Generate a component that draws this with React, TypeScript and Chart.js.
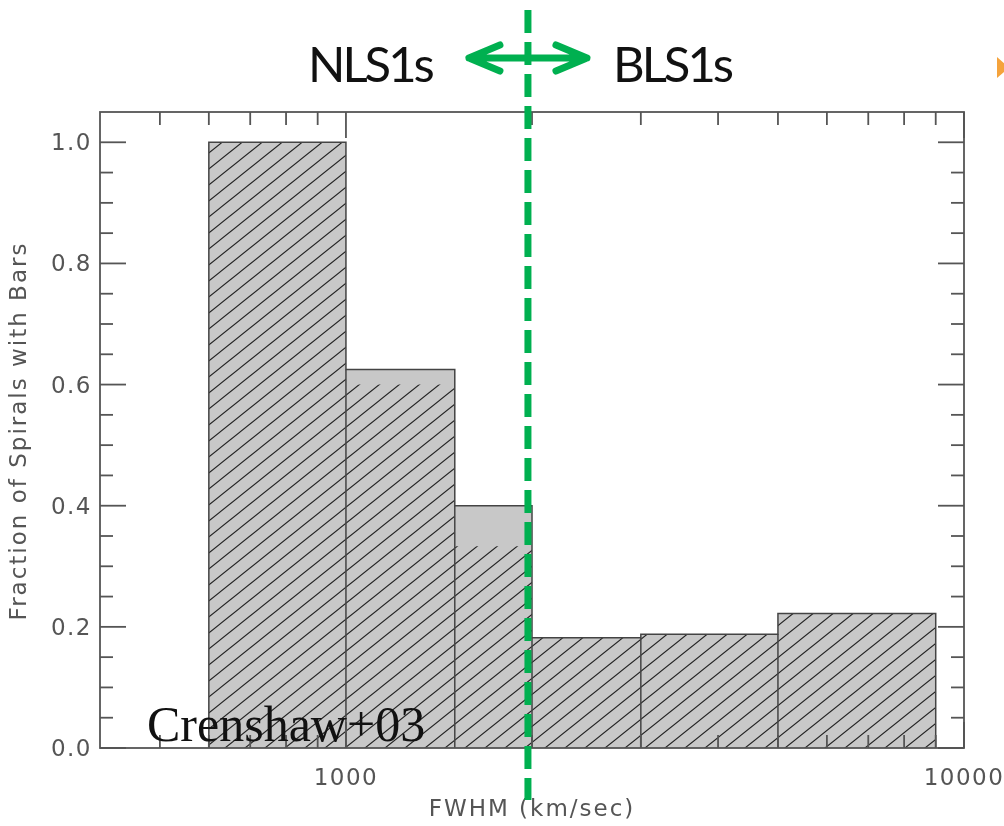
import React, { useEffect, useRef } from "react";
import { Chart, registerables } from "chart.js";

Chart.register(...registerables);

// FWHM bin edges (km/s) and the barred fraction in each bin
const binEdges = [600, 1000, 1500, 2000, 3000, 5000, 9000];
const allBarred = [1.0, 0.625, 0.4, 0.182, 0.188, 0.222];
const hatchedBarred = [1.0, 0.6, 0.333, 0.182, 0.188, 0.222];

// axis ticks
const xTickValues = [1000, 10000];
const xMinorTicks = [500, 600, 700, 800, 900, 2000, 3000, 4000, 5000, 6000, 7000, 8000, 9000];
const yTickValues = [0, 0.2, 0.4, 0.6, 0.8, 1.0];
const yMinorTicks = [0.05, 0.1, 0.15, 0.25, 0.3, 0.35, 0.45, 0.5, 0.55, 0.65, 0.7, 0.75, 0.85, 0.9, 0.95];

// NLS1 / BLS1 dividing line
const boundaryFwhm = 1970;

const xTitle = "FWHM (km/sec)";
const yTitle = "Fraction of Spirals with Bars";
const leftLabel = "NLS1s";
const rightLabel = "BLS1s";
const sourceLabel = "Crenshaw+03";

const axisColor = "#555555";
const labelFont = '"DejaVu Sans", sans-serif';

function stepPoints(edges: number[], vals: number[]) {
  const pts: { x: number; y: number }[] = [{ x: edges[0], y: 0 }];
  vals.forEach((v, i) => pts.push({ x: edges[i], y: v }));
  pts.push({ x: edges[edges.length - 1], y: vals[vals.length - 1] });
  pts.push({ x: edges[edges.length - 1], y: 0 });
  return pts;
}

function makeHatch(): CanvasPattern | string {
  const c = document.createElement("canvas");
  c.width = 20;
  c.height = 16;
  const g = c.getContext("2d");
  if (!g) return "#c8c8c8";
  g.strokeStyle = "#222222";
  g.lineWidth = 1.1;
  for (const dx of [-20, 0, 20]) {
    g.beginPath();
    g.moveTo(dx - 20, 32);
    g.lineTo(dx + 40, -16);
    g.stroke();
  }
  return g.createPattern(c, "repeat") || "#c8c8c8";
}

const frameAndTicks = {
  id: "frameAndTicks",
  beforeDraw(chart: any) {
    chart.ctx.letterSpacing = "1.5px";
  },
  afterDatasetsDraw(chart: any) {
    const { ctx, chartArea: a } = chart;
    const x = chart.scales.x;
    const y = chart.scales.y;
    const seg = (x1: number, y1: number, x2: number, y2: number) => {
      ctx.beginPath();
      ctx.moveTo(x1, y1);
      ctx.lineTo(x2, y2);
      ctx.stroke();
    };
    ctx.save();
    ctx.letterSpacing = "0px";

    // inner bin separators
    ctx.strokeStyle = "#444444";
    ctx.lineWidth = 1.5;
    for (let i = 1; i < binEdges.length - 1; i++) {
      const px = x.getPixelForValue(binEdges[i]);
      const h = Math.min(allBarred[i - 1], allBarred[i]);
      seg(px, y.getPixelForValue(0), px, y.getPixelForValue(h));
    }

    // inward ticks on all four sides
    ctx.strokeStyle = axisColor;
    ctx.lineWidth = 1.8;
    xTickValues.forEach((v) => {
      const px = x.getPixelForValue(v);
      seg(px, a.bottom, px, a.bottom - 26);
      seg(px, a.top, px, a.top + 26);
    });
    xMinorTicks.forEach((v) => {
      const px = x.getPixelForValue(v);
      seg(px, a.bottom, px, a.bottom - 13);
      seg(px, a.top, px, a.top + 13);
    });
    yTickValues.forEach((v) => {
      const py = y.getPixelForValue(v);
      seg(a.left, py, a.left + 26, py);
      seg(a.right, py, a.right - 26, py);
    });
    yMinorTicks.forEach((v) => {
      const py = y.getPixelForValue(v);
      seg(a.left, py, a.left + 13, py);
      seg(a.right, py, a.right - 13, py);
    });
    ctx.strokeRect(a.left, a.top, a.right - a.left, a.bottom - a.top);

    // axis titles
    ctx.fillStyle = axisColor;
    ctx.font = `23px ${labelFont}`;
    ctx.letterSpacing = "2px";
    ctx.textAlign = "center";
    ctx.textBaseline = "middle";
    ctx.fillText(xTitle, (a.left + a.right) / 2, 810);
    ctx.save();
    ctx.translate(20, 431);
    ctx.rotate(-Math.PI / 2);
    ctx.fillText(yTitle, 0, 0);
    ctx.restore();

    // source tag
    ctx.letterSpacing = "0px";
    ctx.fillStyle = "#111111";
    ctx.font = '50px "Liberation Serif", serif';
    ctx.textAlign = "left";
    ctx.textBaseline = "alphabetic";
    ctx.fillText(sourceLabel, 147, 741);
    ctx.restore();
  },
  afterDraw(chart: any) {
    const { ctx } = chart;
    const bx = chart.scales.x.getPixelForValue(boundaryFwhm);
    ctx.save();
    ctx.letterSpacing = "0px";

    // dashed dividing line
    ctx.strokeStyle = "#00b050";
    ctx.lineWidth = 7;
    ctx.setLineDash([23, 9]);
    ctx.beginPath();
    ctx.moveTo(bx, 10);
    ctx.lineTo(bx, 800);
    ctx.stroke();
    ctx.setLineDash([]);

    // double-headed arrow
    const ay = 58;
    ctx.lineCap = "round";
    ctx.lineJoin = "round";
    ctx.beginPath();
    ctx.moveTo(bx - 59, ay);
    ctx.lineTo(bx + 59, ay);
    ctx.moveTo(bx - 28, ay - 13);
    ctx.lineTo(bx - 59, ay);
    ctx.lineTo(bx - 28, ay + 13);
    ctx.moveTo(bx + 28, ay - 13);
    ctx.lineTo(bx + 59, ay);
    ctx.lineTo(bx + 28, ay + 13);
    ctx.stroke();

    // side labels
    ctx.fillStyle = "#111111";
    ctx.font = '49px Lato, "Noto Sans", sans-serif';
    ctx.letterSpacing = "-3px";
    ctx.textAlign = "left";
    ctx.textBaseline = "alphabetic";
    ctx.fillText(leftLabel, 308, 82);
    ctx.fillText(rightLabel, 613, 82);
    ctx.letterSpacing = "0px";

    // small orange marker at the top-right edge
    ctx.fillStyle = "#f5a33c";
    ctx.beginPath();
    ctx.moveTo(997, 57);
    ctx.lineTo(1009, 67.5);
    ctx.lineTo(997, 78);
    ctx.closePath();
    ctx.fill();
    ctx.restore();
  },
};

export default function App() {
  const canvasRef = useRef<HTMLCanvasElement | null>(null);

  useEffect(() => {
    document.body.style.margin = "0";
    const canvas = canvasRef.current;
    if (!canvas) return;
    const hatch = makeHatch();
    const tickFont = { family: labelFont, size: 23 };

    const chart = new Chart(canvas, {
      type: "line",
      data: {
        datasets: [
          {
            label: "hatched",
            data: stepPoints(binEdges, hatchedBarred),
            stepped: true,
            fill: "origin",
            backgroundColor: hatch as any,
            borderColor: "rgba(0,0,0,0)",
            borderWidth: 0,
            pointRadius: 0,
            order: 1,
          },
          {
            label: "all",
            data: stepPoints(binEdges, allBarred),
            stepped: true,
            fill: "origin",
            backgroundColor: "#c8c8c8",
            borderColor: "rgba(0,0,0,0)",
            borderWidth: 0,
            pointRadius: 0,
            order: 2,
          },
          {
            label: "outline",
            data: stepPoints(binEdges, allBarred),
            stepped: true,
            fill: false,
            borderColor: "#444444",
            borderWidth: 1.5,
            pointRadius: 0,
            order: 0,
          },
        ],
      },
      options: {
        responsive: false,
        animation: false,
        events: [],
        layout: { padding: { top: 112, right: 40, left: 0, bottom: 0 } },
        plugins: {
          legend: { display: false },
          tooltip: { enabled: false },
          title: { display: false },
        },
        scales: {
          x: {
            type: "logarithmic",
            min: 400,
            max: 10000,
            afterBuildTicks: (s: any) => {
              s.ticks = xTickValues.map((v) => ({ value: v }));
            },
            afterFit: (s: any) => {
              s.height = 78;
              s.paddingLeft = 0;
              s.paddingRight = 0;
            },
            grid: { display: false, drawTicks: false },
            border: { display: false },
            ticks: {
              callback: (v: any) => String(v),
              color: axisColor,
              font: tickFont,
              padding: 17,
              maxRotation: 0,
              autoSkip: false,
            },
          },
          y: {
            type: "linear",
            min: 0,
            max: 1.05,
            afterBuildTicks: (s: any) => {
              s.ticks = yTickValues.map((v) => ({ value: v }));
            },
            afterFit: (s: any) => {
              s.width = 100;
              s.paddingTop = 0;
              s.paddingBottom = 0;
            },
            grid: { display: false, drawTicks: false },
            border: { display: false },
            ticks: {
              callback: (v: any) => Number(v).toFixed(1),
              color: axisColor,
              font: tickFont,
              padding: 8,
              labelOffset: 2,
            },
          },
        },
      } as any,
      plugins: [frameAndTicks],
    });

    return () => chart.destroy();
  }, []);

  return (
    <canvas
      ref={canvasRef}
      width={1004}
      height={826}
      style={{ display: "block", width: 1004, height: 826 }}
    />
  );
}
